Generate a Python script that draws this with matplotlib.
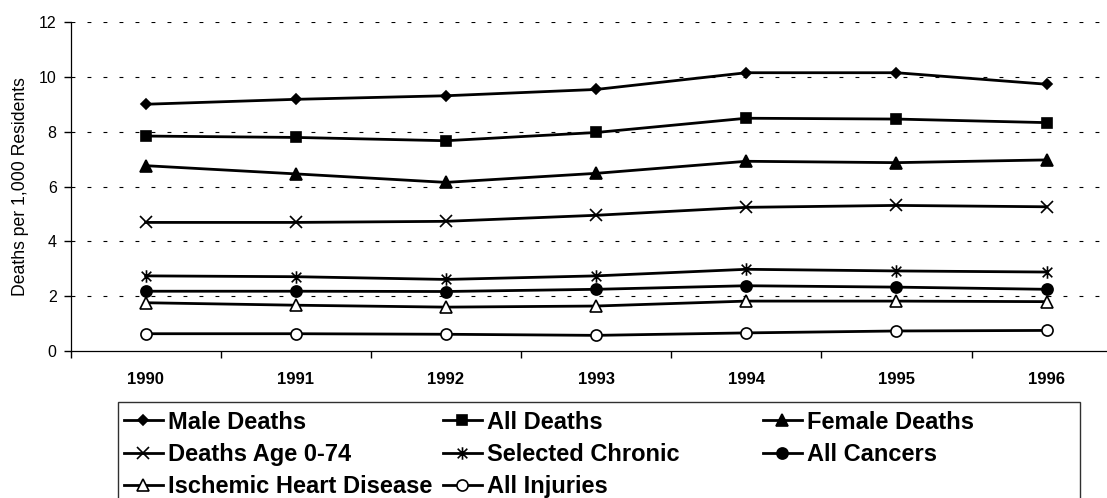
import numpy as np
import matplotlib
matplotlib.use('Agg')
import matplotlib.pyplot as plt
from matplotlib.patches import Rectangle
from matplotlib.path import Path

plt.rcParams['font.family'] = ['Liberation Sans', 'DejaVu Sans']

years = ['1990', '1991', '1992', '1993', '1994', '1995', '1996']

male_deaths = [9.0, 9.18, 9.31, 9.54, 10.15, 10.15, 9.73]
all_deaths = [7.84, 7.79, 7.67, 7.97, 8.49, 8.46, 8.33]
female_deaths = [6.76, 6.46, 6.15, 6.48, 6.92, 6.87, 6.97]
deaths_0_74 = [4.69, 4.69, 4.73, 4.95, 5.24, 5.31, 5.26]
selected_chronic = [2.74, 2.71, 2.61, 2.74, 2.98, 2.92, 2.88]
all_cancers = [2.18, 2.18, 2.17, 2.25, 2.38, 2.33, 2.25]
ischemic = [1.76, 1.67, 1.60, 1.64, 1.82, 1.82, 1.80]
all_injuries = [0.63, 0.63, 0.61, 0.57, 0.66, 0.73, 0.75]

# excel style asterisk: an x with a vertical bar through it
star = Path([(-1, -1), (1, 1), (-1, 1), (1, -1), (0, -1.3), (0, 1.3)],
            [Path.MOVETO, Path.LINETO, Path.MOVETO, Path.LINETO, Path.MOVETO, Path.LINETO])

# (label, values, marker, size, face)
series = [
    ('Male Deaths', male_deaths, 'D', 5.5, 'black'),
    ('All Deaths', all_deaths, 's', 7.5, 'black'),
    ('Female Deaths', female_deaths, '^', 8, 'black'),
    ('Deaths Age 0-74', deaths_0_74, 'x', 8, 'black'),
    ('Selected Chronic', selected_chronic, star, 9, 'black'),
    ('All Cancers', all_cancers, 'o', 8, 'black'),
    ('Ischemic Heart Disease', ischemic, '^', 8, 'white'),
    ('All Injuries', all_injuries, 'o', 8, 'white'),
]

fig = plt.figure(figsize=(11.07, 4.98), dpi=100)
ax = fig.add_axes([0.0637, 0.2952, 0.9496, 0.6606])

x = np.arange(len(years))
handles = {}
for label, vals, mk, ms, fc in series:
    ln, = ax.plot(x, vals, color='black', lw=2, marker=mk, ms=ms,
                  mfc=fc, mec='black', mew=1.2, label=label, zorder=3)
    handles[label] = ln

ax.set_xlim(-0.5, len(years) - 0.5)
ax.set_ylim(0, 12)
ax.set_yticks(np.arange(0, 13, 2))
ax.set_xticks(x)
ax.set_xticklabels(years, fontsize=12, fontweight='bold')
ax.set_xticks(np.arange(-0.5, len(years), 1), minor=True)
ax.tick_params(axis='x', which='major', length=0, pad=15)
ax.tick_params(axis='x', which='minor', length=5, width=1, direction='out')
ax.tick_params(axis='y', length=5, width=1, direction='out', labelsize=11.5, pad=5)

for v in range(2, 13, 2):
    ax.axhline(v, color='black', lw=0.8, linestyle=(0, (3.5, 10.9)), zorder=1)

for s in ['top', 'right']:
    ax.spines[s].set_visible(False)
for s in ['left', 'bottom']:
    ax.spines[s].set_linewidth(0.9)

ax.set_ylabel('Deaths per 1,000 Residents', fontsize=12.7, labelpad=7)

# legend: three equal-width columns, Excel style
columns = [
    ['Male Deaths', 'Deaths Age 0-74', 'Ischemic Heart Disease'],
    ['All Deaths', 'Selected Chronic', 'All Injuries'],
    ['Female Deaths', 'All Cancers'],
]
col_x = [124 / 1107, 443 / 1107, 763 / 1107]
for cx, labels in zip(col_x, columns):
    fig.legend([handles[l] for l in labels], labels, loc='upper left',
               bbox_to_anchor=(cx, 0.1756), bbox_transform=fig.transFigure,
               frameon=False, borderpad=0, borderaxespad=0,
               handlelength=1.65, handletextpad=0.21, labelspacing=0.4,
               prop={'size': 17, 'weight': 'bold'})

frame = Rectangle((118 / 1107, -0.05), (1080 - 118) / 1107, 0.1928 + 0.05,
                  transform=fig.transFigure, fill=False, edgecolor='#303030', lw=1)
fig.add_artist(frame)

fig.savefig('out.png', dpi=100)
